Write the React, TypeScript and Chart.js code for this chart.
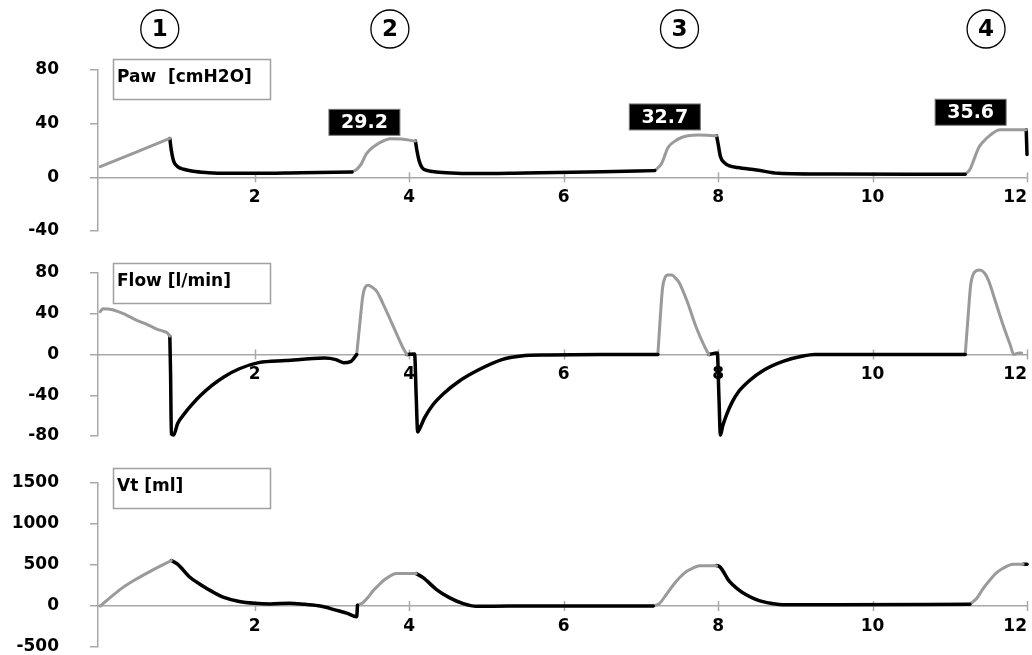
import React, { useEffect, useRef } from 'react';
import { Chart, registerables } from 'chart.js';

Chart.register(...registerables);

const FONT_FAMILY = '"DejaVu Sans", "Liberation Sans", sans-serif';
const GRAY = '#9a9a9a';
const BLACK = '#000000';
const AXIS = '#a8a8a8';

// ---- shared x axis (time, s) ----
const xTickValues = [0, 2, 4, 6, 8, 10, 12];
const xMin = -0.03;
const xMax = 12;

// ---- breath cycle markers ----
const cycleNumbers = ['1', '2', '3', '4'];
const cycleTimes = [0.77, 3.75, 7.5, 11.47];

// ---- peak pressure boxes ----
const peakTexts = ['29.2', '32.7', '35.6'];
const peakTimes = [3.42, 7.31, 11.27];
const peakLevels = [41, 45, 48.5];

// ---- Paw [cmH2O] ----
const pawTickValues = [-40, 0, 40, 80];
const pawTimes = [
  [0, 0.9],
  [0.9, 0.92, 0.95, 1.0, 1.08, 1.2, 1.4, 1.6, 2.0, 2.6, 3.26],
  [3.26, 3.32, 3.38, 3.44, 3.5, 3.58, 3.66, 3.75, 3.9, 4.08],
  [4.08, 4.1, 4.13, 4.17, 4.24, 4.35, 4.55, 4.8, 5.5, 6.5, 7.18],
  [7.18, 7.27, 7.35, 7.44, 7.52, 7.61, 7.75, 7.98],
  [7.98, 8.0, 8.03, 8.08, 8.15, 8.25, 8.5, 8.78, 9.5, 10.5, 11.2],
  [11.2, 11.26, 11.32, 11.37, 11.43, 11.52, 11.65, 11.99],
  [11.99, 12.0],
];
const pawValues = [
  [8, 29],
  [29, 20, 12, 8, 6, 4.5, 3.5, 3, 3, 3.5, 4],
  [4, 6, 10, 17, 21, 24.5, 27, 28.8, 28.5, 27],
  [27, 20, 12, 7, 5, 4, 3.2, 2.8, 3.3, 4.2, 5],
  [5, 10.5, 22, 27, 29.5, 31, 31.5, 31],
  [31, 25, 15.5, 11, 8.5, 7.3, 5.5, 3, 2.4, 2.3, 2.3],
  [2.3, 5.8, 14.3, 21.6, 26.4, 31.3, 35.4, 35.4],
  [35.4, 17],
];
const pawPhases = ['insp', 'exp', 'insp', 'exp', 'insp', 'exp', 'insp', 'exp'];

// ---- Flow [l/min] ----
const flowTickValues = [-80, -40, 0, 40, 80];
const flowTimes = [
  [0, 0.03, 0.16, 0.33, 0.46, 0.59, 0.73, 0.81, 0.87, 0.9],
  [0.9, 0.91, 0.92, 0.95, 1.0, 1.1, 1.2, 1.3, 1.45, 1.6, 1.8, 2.05, 2.4, 2.9, 3.05, 3.15, 3.24, 3.32],
  [3.32, 3.36, 3.4, 3.43, 3.47, 3.52, 3.58, 3.66, 3.75, 3.85, 3.93, 3.97],
  [3.97, 4.07, 4.09, 4.11, 4.14, 4.2, 4.3, 4.45, 4.65, 4.9, 5.2, 5.45, 5.8, 6.5, 7.22],
  [7.22, 7.25, 7.28, 7.31, 7.35, 7.4, 7.45, 7.5, 7.6, 7.72, 7.83, 7.88],
  [7.88, 7.99, 8.01, 8.03, 8.06, 8.11, 8.18, 8.26, 8.4, 8.6, 8.85, 9.1, 9.25, 10, 11.2],
  [11.2, 11.24, 11.27, 11.3, 11.34, 11.39, 11.45, 11.5, 11.6, 11.69, 11.78, 11.83, 11.9, 11.93],
];
const flowValues = [
  [42, 45, 44, 39, 34, 30, 25, 23, 21, 18],
  [18, -20, -78, -79, -68, -57, -48, -40, -30, -22, -14, -8, -6, -3.5, -5, -8, -7, 0],
  [0, 30, 58, 66, 68, 66, 62, 50, 35, 18, 5, 0],
  [0, 0.5, -40, -76, -72, -62, -50, -38, -26, -15, -5, -1.5, -0.5, 0, 0],
  [0, 35, 65, 75, 78, 78, 75, 70, 52, 26, 7, 0],
  [0, 1.5, -40, -79, -70, -59, -47, -37, -26, -15, -6.5, -1.5, 0, 0, 0],
  [0, 40, 68, 78, 82, 83, 80, 73, 50, 29, 10, 0, 1.5, 1.5],
];
const flowPhases = ['insp', 'exp', 'insp', 'exp', 'insp', 'exp', 'insp'];

// ---- Vt [ml] ----
const vtTickValues = [-500, 0, 500, 1000, 1500];
const vtTimes = [
  [0, 0.15, 0.29, 0.45, 0.64, 0.92],
  [0.92, 1.0, 1.16, 1.3, 1.45, 1.6, 1.8, 2.0, 2.2, 2.45, 2.65, 2.85, 3.05, 3.2, 3.32, 3.33],
  [3.33, 3.4, 3.47, 3.53, 3.6, 3.66, 3.75, 3.83, 4.09],
  [4.09, 4.18, 4.35, 4.52, 4.7, 4.87, 5.3, 7.16],
  [7.16, 7.24, 7.33, 7.42, 7.5, 7.59, 7.68, 7.76, 7.98],
  [7.98, 8.02, 8.15, 8.25, 8.37, 8.48, 8.58, 8.7, 8.84, 9.5, 11.26],
  [11.26, 11.35, 11.43, 11.52, 11.6, 11.69, 11.82, 11.95],
  [11.95, 12.0],
];
const vtValues = [
  [0, 120, 224, 320, 420, 555],
  [555, 510, 350, 260, 175, 105, 55, 33, 25, 35, 20, 0, -50, -90, -130, 10],
  [10, 40, 110, 183, 250, 305, 365, 395, 395],
  [395, 346, 204, 102, 28, -4, 0, 0],
  [0, 30, 140, 256, 345, 420, 465, 490, 492],
  [492, 480, 297, 210, 134, 85, 53, 30, 15, 15, 20],
  [20, 94, 210, 317, 400, 460, 509, 509],
  [509, 509],
];
const vtPhases = ['insp', 'exp', 'insp', 'exp', 'insp', 'exp', 'insp', 'exp'];

const tickFont = { family: FONT_FAMILY, size: 17, weight: 'bold' as const };

function buildDatasets(times: number[][], values: number[][], phases: string[]) {
  return times.map((ts, i) => ({
    data: ts.map((t, j) => ({ x: t, y: values[i][j] })),
    borderColor: phases[i] === 'insp' ? GRAY : BLACK,
    borderWidth: phases[i] === 'insp' ? 3 : 3.5,
    pointRadius: 0,
    fill: false,
    clip: 8,
    cubicInterpolationMode: 'monotone' as const,
    borderCapStyle: 'round' as const,
    borderJoinStyle: 'round' as const,
  }));
}

const crossTicksPlugin = {
  id: 'crossTicks',
  beforeDatasetsDraw(chart: any) {
    const xs = chart.scales.x;
    const ys = chart.scales.y;
    const y0 = ys.getPixelForValue(0);
    const ctx = chart.ctx;
    ctx.save();
    ctx.strokeStyle = AXIS;
    ctx.lineWidth = 1.5;
    xTickValues.forEach((v) => {
      if (v === 0) return;
      const px = Math.round(xs.getPixelForValue(v)) + 0.5;
      ctx.beginPath();
      ctx.moveTo(px, y0 - 5);
      ctx.lineTo(px, y0 + 5);
      ctx.stroke();
    });
    ctx.restore();
  },
};

function titleBoxPlugin(text: string, boxTop: number) {
  return {
    id: 'titleBox',
    afterDraw(chart: any) {
      const ctx = chart.ctx;
      const left = chart.chartArea.left + 15;
      const w = 157;
      const h = 40;
      ctx.save();
      ctx.fillStyle = '#ffffff';
      ctx.fillRect(left, boxTop, w, h);
      ctx.strokeStyle = '#a0a0a0';
      ctx.lineWidth = 1.5;
      ctx.strokeRect(left + 0.5, boxTop + 0.5, w, h);
      ctx.fillStyle = '#000';
      ctx.font = `bold 17px ${FONT_FAMILY}`;
      ctx.textAlign = 'left';
      ctx.textBaseline = 'middle';
      ctx.fillText(text, left + 4, boxTop + h / 2 - 1);
      ctx.restore();
    },
  };
}

const cyclesPlugin = {
  id: 'cycles',
  afterDraw(chart: any) {
    const xs = chart.scales.x;
    const ctx = chart.ctx;
    ctx.save();
    cycleTimes.forEach((t, i) => {
      const cx = xs.getPixelForValue(t);
      const cy = 29;
      ctx.beginPath();
      ctx.arc(cx, cy, 19, 0, Math.PI * 2);
      ctx.strokeStyle = '#000';
      ctx.lineWidth = 1.3;
      ctx.stroke();
      ctx.fillStyle = '#000';
      ctx.font = `bold 23px ${FONT_FAMILY}`;
      ctx.textAlign = 'center';
      ctx.textBaseline = 'middle';
      ctx.fillText(cycleNumbers[i], cx, cy + 1);
    });
    ctx.restore();
  },
};

const peaksPlugin = {
  id: 'peaks',
  afterDraw(chart: any) {
    const xs = chart.scales.x;
    const ys = chart.scales.y;
    const ctx = chart.ctx;
    ctx.save();
    peakTexts.forEach((txt, i) => {
      const cx = xs.getPixelForValue(peakTimes[i]);
      const cy = ys.getPixelForValue(peakLevels[i]);
      const w = 71;
      const h = 26;
      ctx.fillStyle = '#000';
      ctx.fillRect(cx - w / 2, cy - h / 2, w, h);
      ctx.strokeStyle = '#777';
      ctx.lineWidth = 1;
      ctx.strokeRect(cx - w / 2, cy - h / 2, w, h);
      ctx.fillStyle = '#fff';
      ctx.font = `bold 19px ${FONT_FAMILY}`;
      ctx.textAlign = 'center';
      ctx.textBaseline = 'middle';
      ctx.fillText(txt, cx, cy + 1);
    });
    ctx.restore();
  },
};

function makeConfig(
  times: number[][],
  values: number[][],
  phases: string[],
  yTicks: number[],
  padTop: number,
  padBottom: number,
  extraPlugins: any[]
): any {
  return {
    type: 'line',
    data: { datasets: buildDatasets(times, values, phases) },
    options: {
      animation: false,
      responsive: false,
      devicePixelRatio: 1,
      layout: { autoPadding: false, padding: { top: padTop, bottom: padBottom, left: 0, right: 5 } },
      plugins: { legend: { display: false }, tooltip: { enabled: false } },
      scales: {
        x: {
          type: 'linear',
          min: xMin,
          max: xMax,
          position: { y: 0 },
          afterBuildTicks: (s: any) => {
            s.ticks = xTickValues.map((v) => ({ value: v }));
          },
          afterFit: (s: any) => {
            s.paddingLeft = 0;
            s.paddingRight = 0;
            s.paddingTop = 0;
            s.paddingBottom = 0;
          },
          grid: { display: true, drawOnChartArea: false, drawTicks: false },
          border: { display: true, color: AXIS, width: 1.5 },
          ticks: {
            align: 'inner',
            autoSkip: false,
            maxRotation: 0,
            padding: 10,
            color: '#000',
            font: tickFont,
            callback: (v: number) => (v === 0 ? '' : String(v)),
          },
        },
        y: {
          type: 'linear',
          position: 'left',
          min: yTicks[0],
          max: yTicks[yTicks.length - 1],
          afterBuildTicks: (s: any) => {
            s.ticks = yTicks.map((v) => ({ value: v }));
          },
          afterFit: (s: any) => {
            s.width = 98;
            s.paddingTop = 0;
            s.paddingBottom = 0;
            s.paddingLeft = 0;
            s.paddingRight = 0;
          },
          grid: { drawOnChartArea: false, drawTicks: true, tickLength: 8, color: AXIS, lineWidth: 1.5 },
          border: { display: true, color: AXIS, width: 1.5 },
          ticks: {
            padding: 31,
            color: '#000',
            font: tickFont,
            callback: (v: number) => String(v),
          },
        },
      },
    },
    plugins: [crossTicksPlugin, ...extraPlugins],
  };
}

function ChartCanvas({ top, height, config }: { top: number; height: number; config: () => any }) {
  const ref = useRef<HTMLCanvasElement | null>(null);
  useEffect(() => {
    if (!ref.current) return;
    const chart = new Chart(ref.current, config());
    return () => chart.destroy();
  }, []);
  return (
    <canvas
      ref={ref}
      width={1032}
      height={height}
      style={{ position: 'absolute', left: 0, top, width: 1032, height }}
    />
  );
}

export default function App() {
  return (
    <div style={{ position: 'absolute', left: 0, top: 0, width: 1032, height: 655, background: '#fff', overflow: 'hidden' }}>
      <ChartCanvas
        top={0}
        height={250}
        config={() =>
          makeConfig(pawTimes, pawValues, pawPhases, pawTickValues, 70, 19, [
            titleBoxPlugin('Paw  [cmH2O]', 59),
            cyclesPlugin,
            peaksPlugin,
          ])
        }
      />
      <ChartCanvas
        top={250}
        height={200}
        config={() =>
          makeConfig(flowTimes, flowValues, flowPhases, flowTickValues, 23, 14, [
            titleBoxPlugin('Flow [l/min]', 13),
          ])
        }
      />
      <ChartCanvas
        top={450}
        height={205}
        config={() =>
          makeConfig(vtTimes, vtValues, vtPhases, vtTickValues, 33, 8, [titleBoxPlugin('Vt [ml]', 18)])
        }
      />
    </div>
  );
}
